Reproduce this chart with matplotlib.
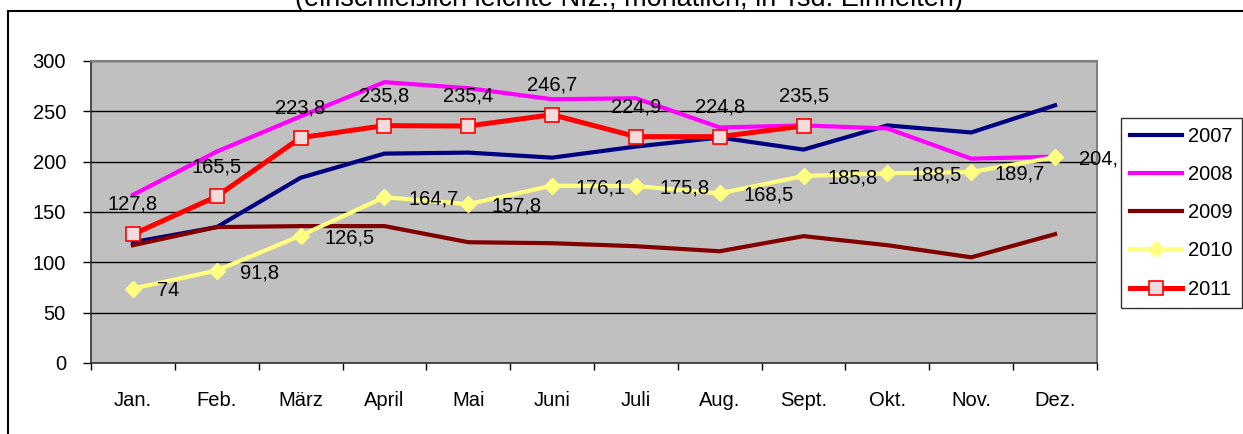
import matplotlib
matplotlib.use("Agg")
from matplotlib import pyplot as plt
from matplotlib.patches import Rectangle
import numpy as np

plt.rcParams['font.family'] = ['Liberation Sans', 'DejaVu Sans']
plt.rcParams['font.size'] = 14.5

months = ["Jan.", "Feb.", "März", "April", "Mai", "Juni", "Juli",
          "Aug.", "Sept.", "Okt.", "Nov.", "Dez."]

s2007 = [120, 135, 184, 208, 209, 204, 215, 224, 212, 236, 229, 256]
s2008 = [167, 210, 245, 279, 273, 262, 263, 234, 236, 233, 203, 205]
s2009 = [117, 135, 136, 136, 120, 119, 116, 111, 126, 117, 105, 128]
s2010 = [74, 91.8, 126.5, 164.7, 157.8, 176.1, 175.8, 168.5, 185.8, 188.5, 189.7, 204.5]
s2011 = [127.8, 165.5, 223.8, 235.8, 235.4, 246.7, 224.9, 224.8, 235.5]

labels2010 = ["74", "91,8", "126,5", "164,7", "157,8", "176,1", "175,8",
              "168,5", "185,8", "188,5", "189,7", "204,"]
labels2011 = ["127,8", "165,5", "223,8", "235,8", "235,4", "246,7",
              "224,9", "224,8", "235,5"]

W, H = 1243, 434
fig = plt.figure(figsize=(W / 100, H / 100), dpi=100)
ax = fig.add_axes([91 / W, 1 - 363 / H, (1097 - 91) / W, (363 - 61) / H])
ax.set_facecolor("#C0C0C0")

x = np.arange(len(months))
l7, = ax.plot(x, s2007, color="#000080", lw=3, label="2007", zorder=3)
l8, = ax.plot(x, s2008, color="#FF00FF", lw=3, label="2008", zorder=3)
l9, = ax.plot(x, s2009, color="#800000", lw=3, label="2009", zorder=3)
l10, = ax.plot(x, s2010, color="#FFFF80", lw=3, marker="D", ms=8,
               mfc="#FFFF80", mec="#FFFF80", label="2010", zorder=3)
l11, = ax.plot(np.arange(len(s2011)), s2011, color="#FF0000", lw=3.6, marker="s",
               ms=10.5, mfc="#F2DCDB", mec="#FF0000", mew=1.2, label="2011", zorder=4)

for i, (v, t) in enumerate(zip(s2010, labels2010)):
    ax.annotate(t, (i, v), xytext=(17, -1.5), textcoords="offset points",
                ha="left", va="center", color="#000000",
                annotation_clip=False, zorder=5)
for i, (v, t) in enumerate(zip(s2011, labels2011)):
    ax.annotate(t, (i, v), xytext=(0, 21.5), textcoords="offset points",
                ha="center", va="center", color="#000000", zorder=5)

ax.set_xlim(-0.5, len(months) - 0.5)
ax.set_ylim(0, 300)
ax.set_yticks(range(0, 301, 50))
ax.yaxis.grid(True, color="#000000", lw=1)
ax.set_axisbelow(True)

ax.set_xticks(x)
ax.set_xticklabels(months)
ax.set_xticks(np.arange(-0.5, len(months)), minor=True)
ax.tick_params(axis="x", which="major", length=0, pad=20)
ax.tick_params(axis="x", which="minor", length=5, width=1, color="#000000")
ax.tick_params(axis="y", length=6, width=1, pad=12, color="#000000")

for side in ["top", "right"]:
    ax.spines[side].set_color("#808080")
    ax.spines[side].set_linewidth(1.5)
ax.spines["left"].set_color("#303030")
ax.spines["bottom"].set_color("#303030")
ax.spines["left"].set_linewidth(1.2)
ax.spines["bottom"].set_linewidth(1.2)

leg = fig.legend(handles=[l7, l8, l9, l10, l11], loc="upper left",
                 bbox_to_anchor=(1121 / W, 1 - 118 / H), frameon=True,
                 fancybox=False, edgecolor="#000000", handlelength=2.6,
                 handletextpad=0.3, labelspacing=0.95, borderpad=0.45,
                 borderaxespad=0)
leg.get_frame().set_linewidth(1)

# outer chart frame, cut at right and bottom
fig.patches.append(Rectangle((8 / W, -0.1), 1.2, 1 - 11 / H + 0.1,
                             transform=fig.transFigure, fill=False,
                             edgecolor="#000000", lw=1.5))

fig.text(629 / W, 1 - 6 / H,
         "(einschließlich leichte Nfz., monatlich, in Tsd. Einheiten)",
         ha="center", va="baseline", fontsize=19.5)

fig.savefig("out.png", dpi=100)
